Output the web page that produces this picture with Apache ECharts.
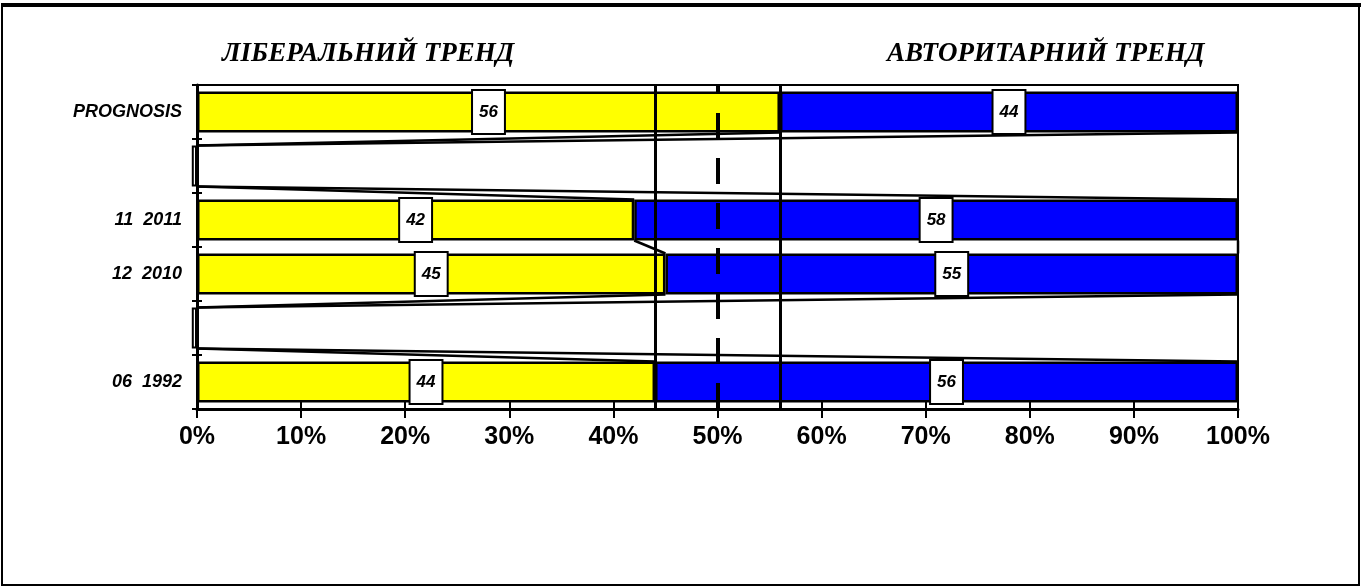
<!DOCTYPE html>
<html>
<head>
<meta charset="utf-8">
<script src="https://cdn.jsdelivr.net/npm/echarts@6/dist/echarts.min.js"></script>
<style>
  html, body { margin: 0; padding: 0; background: #fff; }
  #chart { width: 1363px; height: 588px; }
</style>
</head>
<body>
<div id="chart"></div>
<script>
// rows top to bottom, empty rows are the gaps between periods
var categories = ['PROGNOSIS', '', '11  2011', '12  2010', '', '06  1992'];
var liberal = [56, null, 42, 45, null, 44];
var authoritarian = [44, null, 58, 55, null, 56];
var emptyRows = [null, -0.5, null, null, -0.5, null];
var guideLines = [44, 56];
var midLine = 50;
var headers = ['ЛІБЕРАЛЬНИЙ ТРЕНД', 'АВТОРИТАРНИЙ ТРЕНД'];

var sans = "'Liberation Sans', Arial, sans-serif";
var gapPct = 0.24;

// series lines (Excel style) between neighbouring bars
var seriesLines = [];
for (var i = 0; i < categories.length - 1; i++) {
  var y0 = liberal[i] || 0, y1 = liberal[i + 1] || 0;
  var t0 = y0 + (authoritarian[i] || 0), t1 = y1 + (authoritarian[i + 1] || 0);
  seriesLines.push([i, y0, y1, t0, t1]);
}

var chart = echarts.init(document.getElementById('chart'));

var valueLabel = {
  show: true,
  position: 'inside',
  formatter: '{c}',
  color: '#000',
  fontFamily: sans,
  fontStyle: 'italic',
  fontWeight: 'bold',
  fontSize: 17,
  lineHeight: 20,
  backgroundColor: '#fff',
  borderColor: '#000',
  borderWidth: 2,
  padding: [11, 6]
};

var option = {
  animation: false,
  grid: { left: 197, right: 125, top: 85, bottom: 179, show: true, borderColor: '#000', borderWidth: 2 },
  graphic: [
    { type: 'rect', shape: { x: 2, y: 5, width: 1357, height: 580 }, style: { fill: 'none', stroke: '#000', lineWidth: 2 } },
    { type: 'line', shape: { x1: 1, y1: 5, x2: 1361, y2: 5 }, style: { stroke: '#000', lineWidth: 4 } },
    { type: 'text', left: 222, top: 41, style: { text: headers[0], font: 'italic bold 27px "Liberation Serif", "Times New Roman", serif', fill: '#000' } },
    { type: 'text', left: 887, top: 41, style: { text: headers[1], font: 'italic bold 27px "Liberation Serif", "Times New Roman", serif', fill: '#000' } }
  ],
  xAxis: [
    {
      type: 'value', min: 0, max: 100, interval: 10,
      axisLine: { show: true, lineStyle: { color: '#000', width: 3 } },
      axisTick: { show: true, length: 9, lineStyle: { color: '#000', width: 2 } },
      axisLabel: { formatter: '{value}%', color: '#000', fontFamily: sans, fontWeight: 'bold', fontSize: 25, margin: 16 },
      splitLine: { show: false }
    },
    {
      type: 'value', min: 0, max: 100, interval: 10, position: 'bottom',
      axisLine: { show: false },
      axisTick: { show: true, inside: true, length: 9, lineStyle: { color: '#000', width: 2 } },
      axisLabel: { show: false },
      splitLine: { show: false }
    }
  ],
  yAxis: [
    {
      type: 'category', data: categories, inverse: true,
      axisLine: { show: true, lineStyle: { color: '#000', width: 3 } },
      axisTick: { show: true, length: 5, lineStyle: { color: '#000', width: 2 } },
      axisLabel: { color: '#000', fontFamily: sans, fontStyle: 'italic', fontWeight: 'bold', fontSize: 18, margin: 15 }
    },
    {
      type: 'category', data: categories, inverse: true, position: 'left',
      axisLine: { show: false },
      axisTick: { show: true, inside: true, length: 5, lineStyle: { color: '#000', width: 2 } },
      axisLabel: { show: false }
    }
  ],
  series: [
    {
      name: 'liberal', type: 'bar', stack: 'all', data: liberal,
      barCategoryGap: (gapPct * 100) + '%',
      itemStyle: { color: '#ffff00', borderColor: '#000', borderWidth: 2.5 },
      label: valueLabel, z: 2
    },
    {
      name: 'authoritarian', type: 'bar', stack: 'all', data: authoritarian,
      itemStyle: { color: '#0000ff', borderColor: '#000', borderWidth: 2.5 },
      label: valueLabel, z: 2
    },
    {
      name: 'empty', type: 'bar', stack: 'all', data: emptyRows, clip: false,
      itemStyle: { color: '#fff', borderColor: '#000', borderWidth: 2 },
      z: 2
    },
    {
      name: 'series lines', type: 'custom', data: seriesLines,
      encode: { x: [1, 2, 3, 4], y: 0 },
      z: 4,
      renderItem: function (params, api) {
        var idx = api.value(0);
        var half = api.size([0, 1])[1] * (1 - gapPct) / 2;
        var children = [];
        [[1, 2], [3, 4]].forEach(function (p) {
          var a = api.coord([api.value(p[0]), idx]);
          var b = api.coord([api.value(p[1]), idx + 1]);
          children.push({
            type: 'line',
            shape: { x1: a[0], y1: a[1] + half, x2: b[0], y2: b[1] - half },
            style: { stroke: '#000', lineWidth: 2.5 }
          });
        });
        return { type: 'group', children: children };
      },
      markLine: {
        silent: true, symbol: 'none', label: { show: false },
        data: guideLines.map(function (v) {
          return { xAxis: v, lineStyle: { color: '#000', width: 3, type: 'solid' } };
        }).concat([
          { xAxis: midLine, lineStyle: { color: '#000', width: 4, type: [26, 19], dashOffset: 17 } }
        ])
      }
    }
  ]
};

chart.setOption(option);
</script>
</body>
</html>
